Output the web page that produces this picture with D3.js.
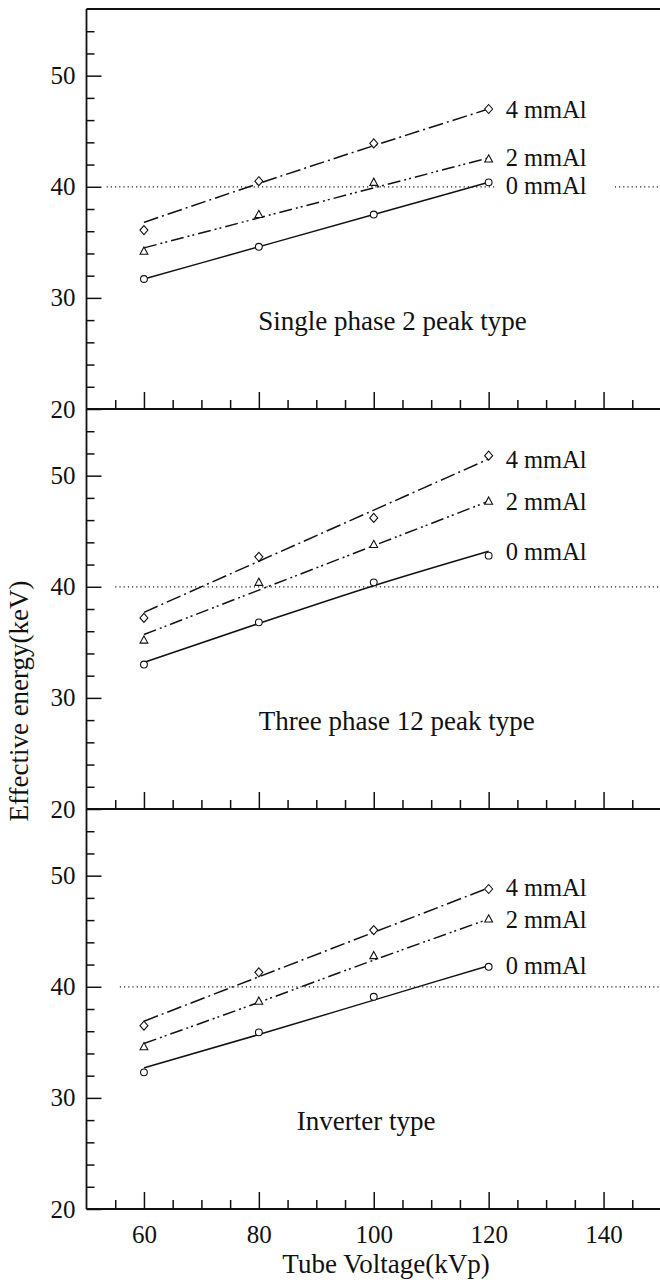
<!DOCTYPE html>
<html lang="en">
<head>
<meta charset="UTF-8">
<title>Effective energy vs tube voltage</title>
<style>
  body { margin: 0; background: #fff; }
  svg { display: block; }
  text { font-family: "Liberation Serif", "DejaVu Serif", "Times New Roman", serif; fill: #111; }
  .frame { stroke: #111; stroke-width: 1.8px; fill: none; }
  .axis line { stroke: #111; stroke-width: 1.5px; }
  .axis .domain { display: none; }
  .ref { stroke: #222; stroke-width: 1.2px; stroke-dasharray: 1.2,3; fill: none; }
  .fit { stroke: #111; stroke-width: 1.5px; fill: none; }
  .marker { stroke: #111; stroke-width: 1.1px; fill: #fff; }
</style>
</head>
<body>
<svg width="660" height="1285" font-family="Liberation Serif, DejaVu Serif, serif"></svg>
<script src="https://d3js.org/d3.v7.min.js"></script>
<script>
const voltages = [60, 80, 100, 120];
const filters = ["4 mmAl", "2 mmAl", "0 mmAl"];
const panelTitles = ["Single phase 2 peak type", "Three phase 12 peak type", "Inverter type"];

// measured points, rows = 4, 2, 0 mmAl
const singlePoints = [[36.1, 40.5, 43.9, 47.0], [34.2, 37.5, 40.4, 42.5], [31.7, 34.6, 37.5, 40.4]];
const threePoints = [[37.2, 42.7, 46.2, 51.8], [35.2, 40.4, 43.8, 47.7], [33.0, 36.8, 40.4, 42.8]];
const inverterPoints = [[36.5, 41.3, 45.1, 48.8], [34.6, 38.7, 42.8, 46.1], [32.3, 35.9, 39.1, 41.8]];

// fitted lines at the same voltages
const singleFit = [[36.8, 40.3, 43.7, 47.0], [34.5, 37.2, 39.9, 42.6], [31.7, 34.6, 37.5, 40.4]];
const threeFit = [[37.7, 42.3, 46.9, 51.5], [35.7, 39.7, 43.7, 47.7], [33.2, 36.7, 40.1, 43.2]];
const inverterFit = [[36.9, 40.9, 44.9, 48.9], [34.9, 38.6, 42.4, 46.1], [32.7, 35.7, 38.8, 41.9]];

const refLevel = 40;
const yLabelTicks = [20, 30, 40, 50];
const xLabelTicks = [60, 80, 100, 120, 140];

const panels = [
  { title: panelTitles[0], points: singlePoints, fit: singleFit },
  { title: panelTitles[1], points: threePoints, fit: threeFit },
  { title: panelTitles[2], points: inverterPoints, fit: inverterFit }
];

const svg = d3.select("svg");
const panelBottoms = [409, 809, 1209];
const panelH = 400;
const titleKv = [79.9, 80, 86.6];
const dashes = ["15,4,2,4", "13,4,2,3,2,4", null];
const shapes = [
  "M0,-4.5L4,0L0,4.5L-4,0Z",
  "M0,-4.2L3.9,3L-3.9,3Z",
  null
];

const x = d3.scaleLinear().domain([50, 150]).range([86.5, 661]);

// frame
svg.append("line").attr("class", "frame")
  .attr("x1", x(50)).attr("x2", x(50)).attr("y1", panelBottoms[0] - panelH).attr("y2", panelBottoms[2]);
[panelBottoms[0] - panelH].concat(panelBottoms).forEach(yy => {
  svg.append("line").attr("class", "frame")
    .attr("x1", x(50)).attr("x2", 660).attr("y1", yy).attr("y2", yy);
});

panels.forEach((p, pi) => {
  const bottom = panelBottoms[pi];
  const y = d3.scaleLinear().domain([20, 56]).range([bottom, bottom - panelH]);
  const g = svg.append("g");

  // y ticks
  g.append("g").attr("class", "axis")
    .attr("transform", `translate(${x(50)},0)`)
    .call(d3.axisLeft(y).tickValues(yLabelTicks).tickSize(-15).tickPadding(11).tickFormat(d3.format("d")))
    .call(a => a.selectAll("text").attr("font-size", 25).attr("font-family", null).attr("fill", "#111"));
  g.append("g").attr("class", "axis")
    .attr("transform", `translate(${x(50)},0)`)
    .call(d3.axisLeft(y).tickValues(d3.range(22, 56, 2).filter(v => v % 10)).tickSize(-8).tickFormat(""));

  // x ticks along the panel bottom, pointing up
  const xMajor = d3.axisBottom(x).tickValues(xLabelTicks).tickSize(-17).tickPadding(16);
  if (pi < 2) xMajor.tickFormat("");
  g.append("g").attr("class", "axis")
    .attr("transform", `translate(0,${bottom})`)
    .call(xMajor)
    .call(a => a.selectAll("text").attr("font-size", 25).attr("font-family", null).attr("fill", "#111"));
  g.append("g").attr("class", "axis")
    .attr("transform", `translate(0,${bottom})`)
    .call(d3.axisBottom(x).tickValues(d3.range(55, 150, 5).filter(v => v % 20)).tickSize(-9).tickFormat(""));

  // reference line at 40 keV
  const refStart = [53.5, 55, 55.8][pi];
  g.append("line").attr("class", "ref")
    .attr("x1", x(refStart)).attr("x2", 660)
    .attr("y1", y(refLevel)).attr("y2", y(refLevel));

  const line = d3.line()
    .x((d, i) => x(voltages[i]))
    .y(d => y(d))
    .curve(d3.curveMonotoneX);

  p.fit.forEach((vals, si) => {
    g.append("path").attr("class", "fit")
      .attr("d", line(vals))
      .attr("stroke-dasharray", dashes[si]);
  });

  p.points.forEach((vals, si) => {
    vals.forEach((v, i) => {
      if (shapes[si]) {
        g.append("path").attr("class", "marker")
          .attr("d", shapes[si])
          .attr("transform", `translate(${x(voltages[i])},${y(v)})`);
      } else {
        g.append("circle").attr("class", "marker")
          .attr("cx", x(voltages[i])).attr("cy", y(v)).attr("r", 3.4);
      }
    });
  });

  // series labels at the line ends, nudged apart when they crowd
  const lx = x(voltages[voltages.length - 1]) + 17;
  let prevY = -Infinity;
  p.fit.forEach((vals, si) => {
    let ly = y(vals[vals.length - 1]);
    if (ly - prevY < 28) ly = prevY + 28;
    prevY = ly;
    if (Math.abs(ly - y(refLevel)) < 10) {
      g.append("rect")
        .attr("x", lx - 11).attr("y", y(refLevel) - 3)
        .attr("width", 120).attr("height", 6)
        .attr("fill", "#fff");
    }
    g.append("text")
      .attr("x", lx).attr("y", ly).attr("dy", "0.35em")
      .attr("font-size", 24.5)
      .text(filters[si]);
  });

  g.append("text")
    .attr("x", x(titleKv[pi])).attr("y", y(27.1))
    .attr("font-size", 27)
    .text(p.title);
});

// axis titles
svg.append("text")
  .attr("transform", "translate(28,701) rotate(-90)")
  .attr("text-anchor", "middle")
  .attr("font-size", 27)
  .text("Effective energy(keV)");

svg.append("text")
  .attr("x", 386).attr("y", 1273)
  .attr("text-anchor", "middle")
  .attr("font-size", 27)
  .text("Tube Voltage(kVp)");
</script>
</body>
</html>
